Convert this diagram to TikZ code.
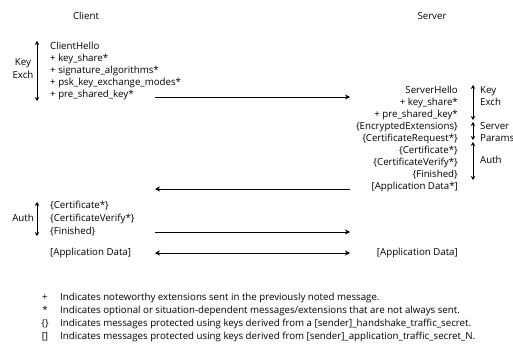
\documentclass[tikz,border=0pt]{standalone}
\usepackage{fontspec}
\setmainfont{Open Sans}
\usetikzlibrary{arrows.meta}
\begin{document}
\begin{tikzpicture}[x=1pt,y=-1pt,
  txt/.style={inner sep=0pt,font=\fontsize{9.7}{11}\selectfont,text height=7pt,text depth=2pt},
  lt/.style={txt,anchor=west},
  rt/.style={txt,anchor=east},
  msg/.style={line width=0.9pt,-{Stealth[length=5pt,width=5pt]}},
  span/.style={line width=0.9pt,{Stealth[length=4pt,width=4.5pt]}-{Stealth[length=4pt,width=4.5pt]}}]
\useasboundingbox (0,0) rectangle (513,345);

% column headings
\node[txt] (client) at (86,17) {Client};
\node[txt] (server) at (432,17) {Server};

% client key exchange flight
\node[lt] (ch)  at (50,47) {ClientHello};
\node[lt] (ch1) at (50,59) {+ key\_share*};
\node[lt] (ch2) at (50,71) {+ signature\_algorithms*};
\node[lt] (ch3) at (50,83) {+ psk\_key\_exchange\_modes*};
\node[lt] (ch4) at (50,95) {+ pre\_shared\_key*};
\coordinate (ckA) at (37,41);
\coordinate (ckB) at (37,101);
\draw[span] (ckA) -- (ckB);
\node[txt] (ck1) at (23,63) {Key};
\node[txt] (ck2) at (23,76) {Exch};

% server flight
\node[rt] (sh)  at (458,91)  {ServerHello};
\node[rt] (sh1) at (458,103) {+ key\_share*};
\node[rt] (sh2) at (458,115) {+ pre\_shared\_key*};
\node[rt] (ee)  at (458,127) {\{EncryptedExtensions\}};
\node[rt] (cr)  at (458,139) {\{CertificateRequest*\}};
\node[rt] (sc)  at (458,151) {\{Certificate*\}};
\node[rt] (scv) at (458,163) {\{CertificateVerify*\}};
\node[rt] (sf)  at (458,175) {\{Finished\}};
\node[rt] (sad) at (458,187) {[Application Data*]};

\coordinate (skA) at (473,85);
\coordinate (skB) at (473,120);
\coordinate (spA) at (473,122);
\coordinate (spB) at (473,140);
\coordinate (saA) at (473,142);
\coordinate (saB) at (473,180);
\draw[span] (skA) -- (skB);
\draw[span] (spA) -- (spB);
\draw[span] (saA) -- (saB);
\node[lt] (sk1) at (480,91)  {Key};
\node[lt] (sk2) at (480,103) {Exch};
\node[lt] (sp1) at (480,127) {Server};
\node[lt] (sp2) at (480,139) {Params};
\node[lt] (sa1) at (480,161) {Auth};

% client authentication flight
\node[lt] (cc)  at (50,206) {\{Certificate*\}};
\node[lt] (ccv) at (50,219) {\{CertificateVerify*\}};
\node[lt] (cf)  at (50,232) {\{Finished\}};
\coordinate (caA) at (37,202);
\coordinate (caB) at (37,236);
\draw[span] (caA) -- (caB);
\node[txt] (ca1) at (23,219) {Auth};

% application data
\node[lt] (cad) at (50,253) {[Application Data]};
\node[rt] (sad2) at (458,253) {[Application Data]};

% message arrows
\coordinate (m1a) at (155,97);
\coordinate (m1b) at (350,97);
\coordinate (m2a) at (350,189);
\coordinate (m2b) at (155,189);
\coordinate (m3a) at (155,232);
\coordinate (m3b) at (350,232);
\coordinate (m4a) at (155,253);
\coordinate (m4b) at (350,253);
\draw[msg] (m1a) -- (m1b);
\draw[msg] (m2a) -- (m2b);
\draw[msg] (m3a) -- (m3b);
\draw[line width=0.9pt,{Stealth[length=5pt,width=5pt]}-{Stealth[length=5pt,width=5pt]}] (m4a) -- (m4b);

% legend
\node[txt] (k1) at (45,298) {+};
\node[txt] (k2) at (45,311) {*};
\node[txt] (k3) at (45,324) {\{\}};
\node[txt] (k4) at (45,337) {[]};
\node[lt] (l1) at (60,298) {Indicates noteworthy extensions sent in the previously noted message.};
\node[lt] (l2) at (60,311) {Indicates optional or situation-dependent messages/extensions that are not always sent.};
\node[lt] (l3) at (60,324) {Indicates messages protected using keys derived from a [sender]\_handshake\_traffic\_secret.};
\node[lt] (l4) at (60,337) {Indicates messages protected using keys derived from [sender]\_application\_traffic\_secret\_N.};
\end{tikzpicture}
\end{document}
